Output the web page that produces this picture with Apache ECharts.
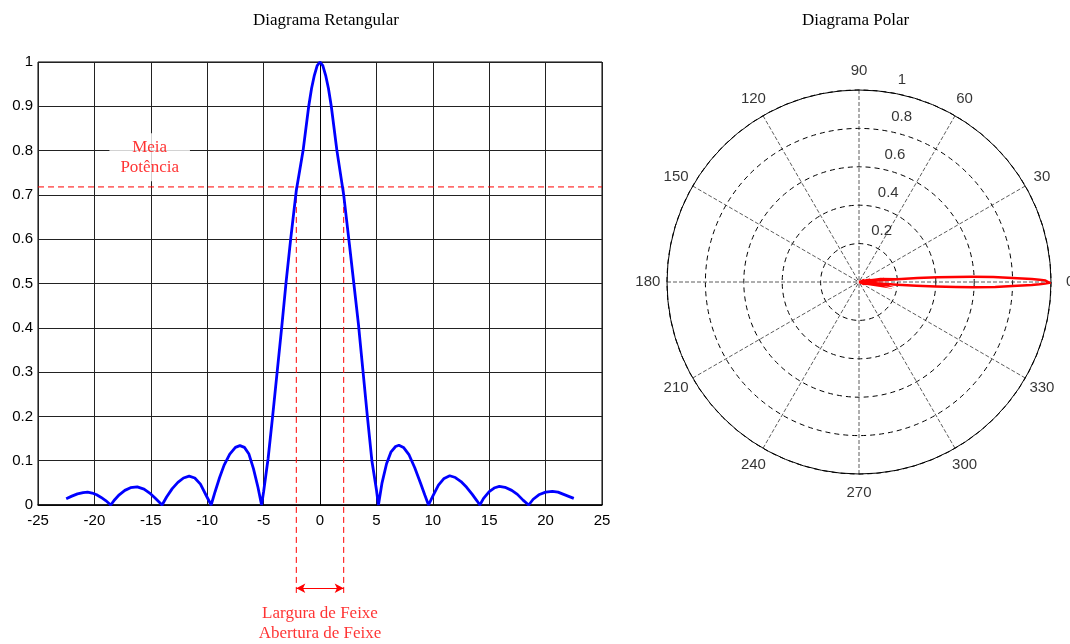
<!DOCTYPE html>
<html lang="pt" style="height: 100%">

<head>
  <meta charset="utf-8">
  <style>
    html,
    body {
      margin: 0;
      padding: 0;
      width: 100%;
      height: 100%;
      overflow: hidden;
      background: #fff;
    }
  </style>
</head>

<body>
  <div id="container" style="height: 100%;width: 100%;"></div>

  <script type="text/javascript" src="https://cdn.jsdelivr.net/npm/echarts/dist/echarts.min.js"></script>
  <script type="text/javascript">

    var dom = document.getElementById('container');
    var myChart = echarts.init(dom, null, {
      renderer: 'canvas',
      useDirtyRect: false
    });

    var option;
    let sansFont = '"Liberation Sans", Arial, sans-serif';
    let serifFont = '"Liberation Serif", "Times New Roman", serif';

    // angulo (graus) e amplitude normalizada
    let angleDeg = [
      -22.5, -22.0, -21.5, -21.0, -20.6, -20.2, -19.8, -19.4, -19.0, -18.55,
      -18.2, -17.8, -17.3, -16.8, -16.2, -15.6, -15.1, -14.6, -14.0,
      -13.6, -13.1, -12.6, -12.1, -11.6, -11.1, -10.6, -10.1, -9.65,
      -9.3, -8.9, -8.5, -8.0, -7.5, -7.1, -6.7, -6.3, -5.9, -5.5, -5.18,
      -5.0, -4.6, -4.2, -3.8, -3.4, -3.0, -2.6, -2.1, -1.5, -1.0, -0.75, -0.5, -0.25, 0, 0.25, 0.5, 0.75, 1.0, 1.5, 2.1, 2.6, 3.0, 3.4, 3.8, 4.2, 4.6, 5.0,
      5.18, 5.5, 5.9, 6.3, 6.7, 7.0, 7.4, 7.9, 8.4, 8.9, 9.3, 9.62,
      10.0, 10.5, 11.0, 11.5, 12.0, 12.5, 13.0, 13.5, 13.9, 14.17,
      14.5, 15.0, 15.5, 15.9, 16.4, 17.0, 17.5, 18.0, 18.5,
      18.9, 19.4, 20.0, 20.6, 21.1, 21.6, 22.1, 22.5
    ];
    let amplitude = [
      0.014, 0.020, 0.025, 0.028, 0.029, 0.027, 0.023, 0.017, 0.010, 0,
      0.012, 0.023, 0.033, 0.039, 0.041, 0.036, 0.027, 0.015, 0,
      0.018, 0.037, 0.051, 0.061, 0.065, 0.061, 0.047, 0.022, 0,
      0.030, 0.062, 0.090, 0.115, 0.130, 0.134, 0.130, 0.115, 0.082, 0.040, 0,
      0.030, 0.105, 0.200, 0.300, 0.400, 0.505, 0.600, 0.710, 0.800, 0.900, 0.940, 0.970, 0.992, 1.0, 0.992, 0.970, 0.940, 0.900, 0.800, 0.700, 0.590, 0.500, 0.410, 0.305, 0.200, 0.100, 0.035,
      0, 0.050, 0.093, 0.120, 0.132, 0.135, 0.130, 0.113, 0.084, 0.050, 0.022, 0,
      0.020, 0.045, 0.060, 0.066, 0.062, 0.053, 0.040, 0.024, 0.010, 0,
      0.015, 0.030, 0.039, 0.042, 0.040, 0.033, 0.024, 0.011, 0,
      0.013, 0.023, 0.029, 0.031, 0.029, 0.024, 0.019, 0.015
    ];

    // anotacoes
    let halfPower = 0.718;
    let beamEdges = [-2.1, 2.1];
    let arrowLevel = -0.188;
    let annotFloor = -0.2;
    let halfPowerText = ['Meia', 'Potência'];
    let halfPowerPos = [-15.1, 0.785];
    let beamText = ['Largura de Feixe', 'Abertura de Feixe'];
    let beamTextPos = [0, -0.268];

    // eixos polares
    let angleTicks = [0, 30, 60, 90, 120, 150, 180, 210, 240, 270, 300, 330];
    let radiusTicks = [0.2, 0.4, 0.6, 0.8, 1];
    let radiusTickLabels = ['0.2', '0.4', '0.6', '0.8', '1'];

    let rectData = angleDeg.map((a, i) => [a, amplitude[i]]);
    let polarData = angleDeg.map((a, i) => [amplitude[i], a]);

    const dashLine = (pts) => ({
      type: 'line',
      xAxisIndex: 1,
      yAxisIndex: 1,
      data: pts,
      showSymbol: false,
      symbol: 'none',
      silent: true,
      clip: false,
      z: 4,
      lineStyle: { color: '#ff0000', width: 1, type: [6, 4] }
    });

    option = {
      backgroundColor: '#fff',
      animation: false,
      title: [{
        text: 'Diagrama Retangular',
        left: 253,
        top: 12,
        padding: 0,
        textStyle: { fontFamily: serifFont, fontSize: 17, fontWeight: 'normal', color: '#000' }
      }, {
        text: 'Diagrama Polar',
        left: 802,
        top: 12,
        padding: 0,
        textStyle: { fontFamily: serifFont, fontSize: 17, fontWeight: 'normal', color: '#000' }
      }],
      grid: [{
        left: 38,
        top: 62,
        width: 564,
        height: 443,
        show: true,
        borderColor: '#000',
        borderWidth: 1,
        containLabel: false
      }, {
        left: 38,
        top: 62,
        width: 564,
        height: 443 * 1.2,
        containLabel: false
      }],
      xAxis: [{
        type: 'value',
        gridIndex: 0,
        min: -25,
        max: 25,
        interval: 5,
        axisLine: { lineStyle: { color: '#000', width: 1.5 } },
        axisTick: { show: false },
        axisLabel: { color: '#000', fontFamily: sansFont, fontSize: 15, margin: 8 },
        splitLine: { show: true, lineStyle: { color: '#222', width: 1 } }
      }, {
        type: 'value',
        gridIndex: 1,
        min: -25,
        max: 25,
        show: false
      }],
      yAxis: [{
        type: 'value',
        gridIndex: 0,
        min: 0,
        max: 1,
        interval: 0.1,
        axisLine: { show: true, lineStyle: { color: '#000', width: 1 } },
        axisTick: { show: false },
        axisLabel: { color: '#000', fontFamily: sansFont, fontSize: 15, margin: 5 },
        splitLine: { show: true, lineStyle: { color: '#222', width: 1 } }
      }, {
        type: 'value',
        gridIndex: 1,
        min: annotFloor,
        max: 1,
        show: false
      }],
      polar: {
        center: [859, 282],
        radius: 192
      },
      angleAxis: {
        type: 'value',
        min: 0,
        max: 360,
        interval: 30,
        startAngle: 0,
        clockwise: false,
        axisLine: { lineStyle: { color: '#000', width: 1 } },
        axisTick: { show: false },
        axisLabel: { show: false },
        splitLine: { show: true, lineStyle: { color: '#333', width: 0.8, type: [4, 2] } }
      },
      radiusAxis: {
        min: 0,
        max: 1,
        interval: 0.2,
        axisLine: { show: false },
        axisTick: { show: false },
        axisLabel: { show: false },
        splitLine: { show: true, lineStyle: { color: '#000', width: 1, type: [5, 4] } }
      },
      series: [{
        name: 'retangular',
        type: 'line',
        xAxisIndex: 0,
        yAxisIndex: 0,
        data: rectData,
        showSymbol: false,
        symbol: 'none',
        z: 5,
        lineStyle: { color: '#0000ff', width: 2.8 }
      },
      dashLine([[-25, halfPower], [25, halfPower]]),
      dashLine([[beamEdges[0], halfPower], [beamEdges[0], annotFloor]]),
      Object.assign(dashLine([[beamEdges[1], halfPower], [beamEdges[1], annotFloor]]), {
        markLine: {
          silent: true,
          symbol: ['arrow', 'arrow'],
          symbolSize: [7, 9],
          label: { show: false },
          lineStyle: { color: '#ff0000', width: 1, type: 'solid' },
          data: [[{ coord: [beamEdges[0], arrowLevel] }, { coord: [beamEdges[1], arrowLevel] }]]
        }
      }), {
        name: 'textos',
        type: 'scatter',
        xAxisIndex: 1,
        yAxisIndex: 1,
        clip: false,
        silent: true,
        z: 10,
        symbolSize: 1,
        itemStyle: { color: 'rgba(0,0,0,0)' },
        data: [
          { value: halfPowerPos, label: { formatter: halfPowerText.join('\n'), backgroundColor: '#fff', padding: [4, 11] } },
          { value: beamTextPos, label: { formatter: beamText.join('\n') } }
        ],
        label: {
          show: true,
          position: 'inside',
          color: '#ff0000',
          fontFamily: serifFont,
          fontSize: 17,
          lineHeight: 20,
          align: 'center',
          verticalAlign: 'middle'
        }
      }, {
        name: 'polar',
        type: 'line',
        coordinateSystem: 'polar',
        data: polarData,
        showSymbol: false,
        symbol: 'none',
        clip: false,
        z: 5,
        lineStyle: { color: '#ff0000', width: 2.5, join: 'miter', miterLimit: 20 }
      }, {
        name: 'rotulos angulo',
        type: 'scatter',
        coordinateSystem: 'polar',
        clip: false,
        silent: true,
        symbolSize: 1,
        itemStyle: { color: 'rgba(0,0,0,0)' },
        data: angleTicks.map(a => [1.1, a]),
        label: {
          show: true,
          position: 'inside',
          color: '#000',
          fontFamily: sansFont,
          fontSize: 15,
          align: 'center',
          verticalAlign: 'middle',
          formatter: p => String(p.value[1])
        }
      }, {
        name: 'rotulos raio',
        type: 'scatter',
        coordinateSystem: 'polar',
        clip: false,
        silent: true,
        symbolSize: 1,
        itemStyle: { color: 'rgba(0,0,0,0)' },
        data: radiusTicks.map(r => [r, 80]),
        label: {
          show: true,
          position: [6, -13],
          color: '#000',
          fontFamily: sansFont,
          fontSize: 15,
          align: 'left',
          verticalAlign: 'middle',
          formatter: p => radiusTickLabels[p.dataIndex]
        }
      }]
    };

    if (option && typeof option === 'object') {
      myChart.setOption(option);
    }

    window.addEventListener('resize', myChart.resize);

  </script>
</body>

</html>
